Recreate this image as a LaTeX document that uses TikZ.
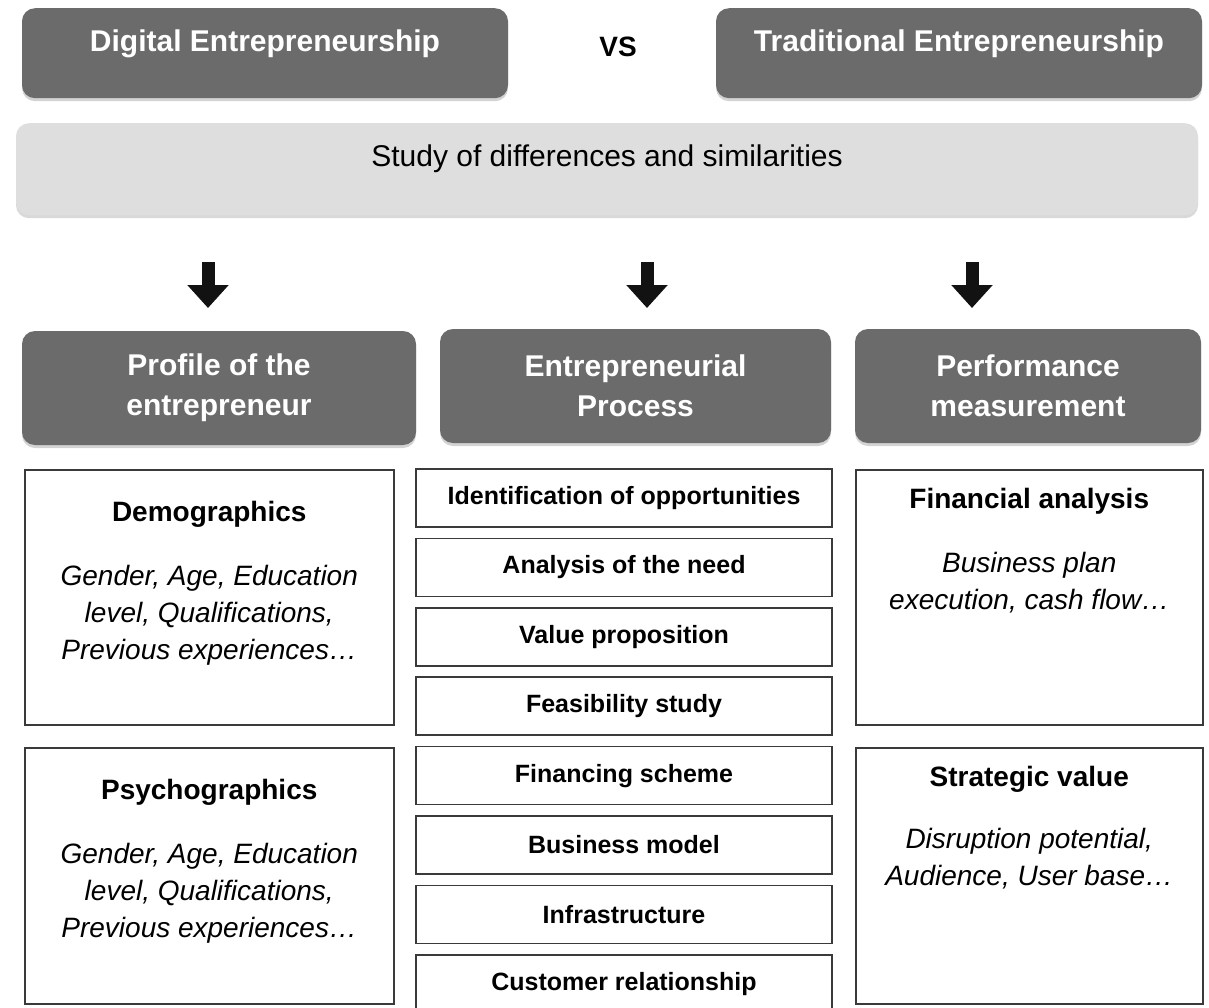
\documentclass[tikz,border=0pt]{standalone}
\usepackage{fontspec}
\setmainfont{Liberation Sans}
\usetikzlibrary{arrows.meta,positioning,shadows}

\definecolor{hdrgray}{HTML}{6B6B6B}
\definecolor{bandgray}{HTML}{DEDEDE}
\definecolor{edgegray}{HTML}{3A3A3A}

\newcommand{\boxtitle}{\fontsize{28}{34}\selectfont\bfseries}
\newcommand{\boxnote}{\fontsize{28}{37}\selectfont\itshape}

\begin{document}
\begin{tikzpicture}[
  x=1pt, y=-1pt,
  node distance=9.9pt,
  hdr/.style={fill=hdrgray, rounded corners=13pt, text=white, inner sep=0pt, align=center,
    font=\fontsize{30}{40}\selectfont\bfseries,
    drop shadow={shadow xshift=0pt, shadow yshift=-3pt, opacity=0.35}},
  band/.style={fill=bandgray, rounded corners=13pt, inner sep=0pt,
    font=\fontsize{30}{36}\selectfont,
    drop shadow={shadow xshift=0pt, shadow yshift=-3pt, opacity=0.3}},
  stepbox/.style={draw=edgegray, line width=1.5pt, fill=white, inner sep=0pt,
    minimum width=416pt, minimum height=58pt, font=\fontsize{25}{30}\selectfont\bfseries},
  infobox/.style={draw=edgegray, line width=1.5pt, fill=white, inner sep=0pt, anchor=north west},
  bigarrow/.style={-{Triangle[width=40pt,length=23pt]}, line width=13pt, draw=black!93}
]
\useasboundingbox (0,0) rectangle (1209,1007);

% the two kinds compared
\node[hdr, minimum width=486pt, text height=43pt, text depth=47pt] (digital) at (265,8) [anchor=north] {Digital Entrepreneurship};
\node[hdr, minimum width=486pt, text height=43pt, text depth=47pt] (trad) at (959,8) [anchor=north] {Traditional Entrepreneurship};
\node[font=\fontsize{28}{34}\selectfont\bfseries] (vs) at (618,47) {VS};

\node[band, minimum width=1182pt, text height=43pt, text depth=49pt] (study) at (607,123) [anchor=north] {Study of differences and similarities};

% arrows down to the three axes
\coordinate (a1) at (208,262); \coordinate (b1) at (208,308);
\coordinate (a2) at (647,262); \coordinate (b2) at (647,308);
\coordinate (a3) at (972,262); \coordinate (b3) at (972,308);
\draw[bigarrow] (a1) -- (b1);
\draw[bigarrow] (a2) -- (b2);
\draw[bigarrow] (a3) -- (b3);

\node[hdr, minimum width=394pt, minimum height=114pt] (profile) at (219,388) {Profile of the\\entrepreneur};
\node[hdr, minimum width=391pt, minimum height=114pt] (process) at (635.5,386) {Entrepreneurial\\Process};
\node[hdr, minimum width=346pt, minimum height=114pt] (perf) at (1028,386) {Performance\\measurement};

% profile column
\node[infobox] (demo) at (24,469) {\parbox[c][255pt][t]{369pt}{\centering\vspace*{31pt}%
  {\boxtitle Demographics\par}\vspace{27pt}%
  {\boxnote Gender, Age, Education\\level, Qualifications,\\Previous experiences\ldots\par}}};
\node[infobox] (psycho) at (24,747) {\parbox[c][256pt][t]{369pt}{\centering\vspace*{31pt}%
  {\boxtitle Psychographics\par}\vspace{27pt}%
  {\boxnote Gender, Age, Education\\level, Qualifications,\\Previous experiences\ldots\par}}};

% process column
\node[stepbox] (p1) at (624,498) {Identification of opportunities};
\node[stepbox, below=of p1] (p2) {Analysis of the need};
\node[stepbox, below=of p2] (p3) {Value proposition};
\node[stepbox, below=of p3] (p4) {Feasibility study};
\node[stepbox, below=of p4] (p5) {Financing scheme};
\node[stepbox, below=of p5] (p6) {Business model};
\node[stepbox, below=of p6] (p7) {Infrastructure};
\node[stepbox, below=of p7] (p8) {Customer relationship};

% performance column
\node[infobox] (fin) at (855,469) {\parbox[c][255pt][t]{347pt}{\centering\vspace*{18pt}%
  {\boxtitle Financial analysis\par}\vspace{27pt}%
  {\boxnote Business plan\\execution, cash flow\ldots\par}}};
\node[infobox] (strat) at (855,747) {\parbox[c][256pt][t]{347pt}{\centering\vspace*{18pt}%
  {\boxtitle Strategic value\par}\vspace{25pt}%
  {\boxnote Disruption potential,\\Audience, User base\ldots\par}}};
\end{tikzpicture}
\end{document}
